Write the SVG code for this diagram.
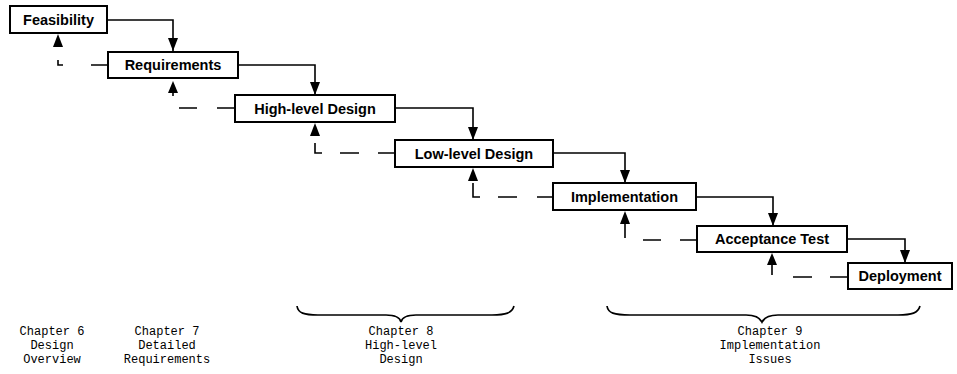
<svg xmlns="http://www.w3.org/2000/svg" width="957" height="374" viewBox="0 0 957 374">
  <style>
    .box rect { fill: #fff; stroke: #000; stroke-width: 2; }
    .box text { font-family: "Liberation Sans", Arial, sans-serif; font-weight: bold; font-size: 14.5px; text-anchor: middle; fill: #000; }
    .flow { fill: none; stroke: #000; stroke-width: 1.6; }
    .back { fill: none; stroke: #000; stroke-width: 1.6; }
    .head { fill: #000; }
    .brace { fill: none; stroke: #000; stroke-width: 1.7; }
    .note { font-family: "Liberation Mono", "Courier New", monospace; font-size: 12px; text-anchor: middle; fill: #000; }
  </style>
  <defs>
    <!-- solid triangular head, pointing along the path direction -->
    <marker id="arrow" viewBox="0 0 13 10" refX="13" refY="5" markerWidth="13" markerHeight="10" markerUnits="userSpaceOnUse" orient="auto">
      <path d="M0,0 L13,5 L0,10 Z" class="head"/>
    </marker>
  </defs>

  <rect width="957" height="374" fill="#fff"/>

  <!-- connectors -->
  <g id="connectors">
    <!-- forward flow: each stage into the next -->
    <path class="flow" d="M107,20 H173 V51" marker-end="url(#arrow)"/>
    <path class="flow" d="M238,65 H315 V95" marker-end="url(#arrow)"/>
    <path class="flow" d="M395,108 H473 V140" marker-end="url(#arrow)"/>
    <path class="flow" d="M553,153 H625 V183" marker-end="url(#arrow)"/>
    <path class="flow" d="M696,197 H773 V226" marker-end="url(#arrow)"/>
    <path class="flow" d="M847,239 H905 V263" marker-end="url(#arrow)"/>

    <!-- feedback: Requirements back to Feasibility -->
    <path class="back" d="M108,65 H91 M63,65 H58 V60"/>
    <path class="head" d="M58,34 L63,47 L53,47 Z"/>
    <!-- feedback: High-level Design back to Requirements -->
    <path class="back" d="M235,108 H217 M197,108 H179 M173,92 V96"/>
    <path class="head" d="M173,81 L178,93 L168,93 Z"/>
    <!-- feedback: Low-level Design back to High-level Design -->
    <path class="back" d="M395,153 H378 M359,153 H340 M322,153 H315 V143"/>
    <path class="head" d="M315,123 L320,136 L310,136 Z"/>
    <!-- feedback: Implementation back to Low-level Design -->
    <path class="back" d="M553,197 H537 M517,197 H498 M480,197 H473 V183"/>
    <path class="head" d="M473,168 L478,181 L468,181 Z"/>
    <!-- feedback: Acceptance Test back to Implementation -->
    <path class="back" d="M697,240 H680 M661,240 H643 M625,223 V238"/>
    <path class="head" d="M625,211 L630,224 L620,224 Z"/>
    <!-- feedback: Deployment back to Acceptance Test -->
    <path class="back" d="M848,277 H830 M812,277 H793 M772,264 V275"/>
    <path class="head" d="M772,253 L777,265 L767,265 Z"/>
  </g>

  <!-- stages -->
  <g id="feasibility" class="box">
    <rect x="10" y="6" width="97" height="27"/>
    <text x="58.5" y="25">Feasibility</text>
  </g>
  <g id="requirements" class="box">
    <rect x="108" y="52" width="130" height="26"/>
    <text x="173" y="70">Requirements</text>
  </g>
  <g id="high-level-design" class="box">
    <rect x="235" y="95" width="160" height="27"/>
    <text x="315" y="114">High-level Design</text>
  </g>
  <g id="low-level-design" class="box">
    <rect x="395" y="140" width="158" height="27"/>
    <text x="474" y="159">Low-level Design</text>
  </g>
  <g id="implementation" class="box">
    <rect x="553" y="183" width="143" height="27"/>
    <text x="624.5" y="202">Implementation</text>
  </g>
  <g id="acceptance-test" class="box">
    <rect x="697" y="226" width="150" height="26"/>
    <text x="772" y="244">Acceptance Test</text>
  </g>
  <g id="deployment" class="box">
    <rect x="848" y="263" width="104" height="26"/>
    <text x="900" y="281">Deployment</text>
  </g>

  <!-- chapter braces -->
  <path class="brace" d="M297,306 C298,313 304,315 318,315 L386,315 C396,315 400,318 401,322 C402,318 406,315 416,315 L492,315 C506,315 512,313 514,306"/>
  <path class="brace" d="M607,306 C608,313 614,315 630,315 L746,315 C756,315 760,318 762,322 C764,318 768,315 778,315 L898,315 C912,315 918,313 920,306"/>

  <!-- chapter notes -->
  <text class="note" x="52" y="335">Chapter 6</text>
  <text class="note" x="52" y="349">Design</text>
  <text class="note" x="52" y="363">Overview</text>
  <text class="note" x="167" y="335">Chapter 7</text>
  <text class="note" x="167" y="349">Detailed</text>
  <text class="note" x="167" y="363">Requirements</text>
  <text class="note" x="401" y="335">Chapter 8</text>
  <text class="note" x="401" y="349">High-level</text>
  <text class="note" x="401" y="363">Design</text>
  <text class="note" x="770" y="335">Chapter 9</text>
  <text class="note" x="770" y="349">Implementation</text>
  <text class="note" x="770" y="363">Issues</text>
</svg>
